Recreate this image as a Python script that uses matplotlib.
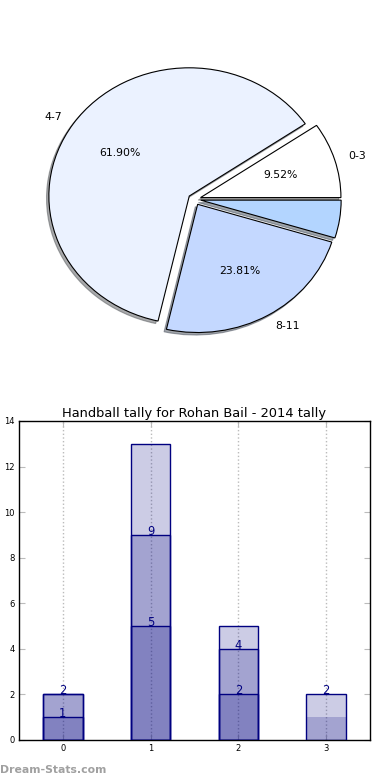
import matplotlib
matplotlib.use("Agg")
import matplotlib.pyplot as plt
import numpy as np

# Pie data
pie_labels = ['0-3', '4-7', '8-11', '']
pie_values = [2, 13, 5, 1]
pie_colors = ['#FFFFFF', '#EBF2FF', '#C4D8FF', '#B3D5FF']

# Bar data (overlaid translucent bars)
bar_x = [0, 1, 2, 3]
series_low = [1, 5, 2, 0]
series_mid = [2, 9, 4, 1]
series_high = [2, 13, 5, 2]
# value labels shown above bars: (bar index, value)
bar_annotations = [(0, 1), (0, 2), (1, 5), (1, 9), (2, 2), (2, 4), (3, 2)]
title = 'Handball tally for Rohan Bail - 2014 tally'

fig = plt.figure(figsize=(3.9, 7.8), dpi=100)

# ---------- Pie ----------
ax1 = fig.add_axes([0.0487, 0.539, 0.9, 0.411])
ax1.pie(pie_values, labels=pie_labels, colors=pie_colors,
        explode=[0.045] * 4,
        shadow=dict(ox=-0.012, oy=-0.014, shade=0.65),
        startangle=0,
        autopct=lambda p: f'{p:.2f}%' if p > 5 else '',
        wedgeprops=dict(edgecolor='black', linewidth=0.8),
        textprops=dict(fontsize=7.8))
ax1.set_aspect('auto')
ax1.set_xlim(-1.25, 1.25)
ax1.set_ylim(-1.25, 1.25)
ax1.axis('off')

# ---------- Bars ----------
ax2 = fig.add_axes([0.0487, 0.0513, 0.9, 0.409])
navy = '#000080'
for vals, lws in [(series_high, [1, 1, 1, 1]),
                  (series_mid, [1, 1, 1, 0]),
                  (series_low, [1, 1, 1, 1])]:
    ax2.bar(bar_x, vals, width=0.45, color=navy, alpha=0.2,
            edgecolor='none', zorder=2)
    for xi, v, lw in zip(bar_x, vals, lws):
        if v > 0 and lw > 0:
            ax2.bar([xi], [v], width=0.45, facecolor='none',
                    edgecolor=navy, linewidth=lw, zorder=3)
for bi, v in bar_annotations:
    ax2.text(bar_x[bi], v, str(v), ha='center', va='baseline',
             color=navy, fontsize=8.3, zorder=4)

ax2.set_xlim(-0.5, 3.5)
ax2.set_ylim(0, 14)
ax2.set_xticks(bar_x)
ax2.set_yticks(np.arange(0, 15, 2))
ax2.tick_params(axis='both', direction='in', length=4, color='#bbbbbb',
                labelsize=6, top=True, right=True, pad=3)
ax2.grid(axis='x', color='#bbbbbb', linestyle=':', linewidth=1, zorder=1)
for s in ax2.spines.values():
    s.set_linewidth(1)
ax2.set_title(title, fontsize=9.4, pad=3)

fig.text(0.0, 0.013, 'Dream-Stats.com', color='#a0a0a0', fontsize=7.8,
         fontweight='bold', ha='left', va='center')

fig.savefig('out.png', dpi=100)
